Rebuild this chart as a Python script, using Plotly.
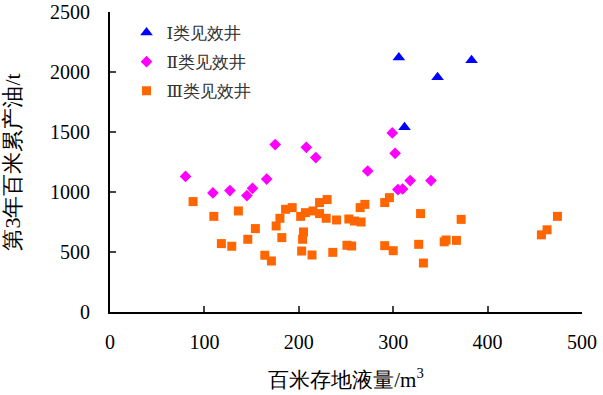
import plotly.graph_objects as go

# Class I wells
x1 = [306, 383, 347, 312]
y1 = [2120, 2097, 1956, 1539]

# Class II wells
x2 = [80, 109, 127, 145, 151, 166, 175, 208, 218, 273, 299, 302, 305, 310, 318, 340]
y2 = [1130, 992, 1012, 970, 1031, 1108, 1395, 1372, 1287, 1175, 1492, 1322, 1020, 1025, 1095, 1095]

# Class III wells
x3 = [88, 110, 136, 154, 146, 118, 129, 164, 171, 180, 176, 182, 186, 193, 202, 207,
      205, 204, 203, 214, 215, 222, 222, 230, 229, 240, 253, 259, 266, 265, 270, 291,
      296, 236, 251, 256, 291, 300, 327, 332, 329, 354, 356, 367, 372, 457, 463, 474]
y3 = [920, 797, 842, 695, 606, 570, 548, 473, 425, 781, 717, 620, 856, 870, 797, 828,
      667, 606, 508, 475, 842, 820, 912, 937, 781, 767, 775, 758, 750, 870, 897, 912,
      953, 497, 556, 550, 553, 511, 564, 408, 820, 585, 600, 597, 772, 643, 685, 797]

names = ["Ⅰ类见效井", "Ⅱ类见效井", "Ⅲ类见效井"]
x_ticks = [0, 100, 200, 300, 400, 500]
y_ticks = [0, 500, 1000, 1500, 2000, 2500]

serif = "'Liberation Serif', 'DejaVu Serif', serif"

fig = go.Figure()
fig.add_trace(go.Scatter(x=x1, y=y1, mode="markers", name=names[0], legendgroup="a",
                         marker=dict(symbol="triangle-up", size=11, color="#0000FF")))
fig.add_trace(go.Scatter(x=x2, y=y2, mode="markers", name=names[1], legendgroup="b",
                         marker=dict(symbol="diamond", size=9, color="#FF00FF")))
fig.add_trace(go.Scatter(x=x3, y=y3, mode="markers", name=names[2], legendgroup="c",
                         marker=dict(symbol="square", size=9, color="#FF6600")))

fig.update_layout(
    width=603, height=395,
    margin=dict(l=110, r=21, t=12, b=83),
    paper_bgcolor="white", plot_bgcolor="white",
    font=dict(family=serif, color="black", size=20),
    showlegend=True,
    legend=dict(x=0.035, y=0.99, xanchor="left", yanchor="top",
                font=dict(size=17, color="#333333", family=serif),
                bgcolor="rgba(0,0,0,0)", itemwidth=30, tracegroupgap=4),
    xaxis=dict(range=[0, 500], tickvals=x_ticks, ticks="inside", ticklen=6,
               tickwidth=2, showline=True, linecolor="black", linewidth=2,
               showgrid=False, zeroline=False, ticklabelstandoff=11, automargin=False,
               ticklabeloverflow="allow",
               tickfont=dict(family=serif, size=20),
               title=dict(text="百米存地液量/m<sup>3</sup>", font=dict(size=21, family=serif), standoff=20)),
    yaxis=dict(range=[0, 2500], tickvals=y_ticks, ticks="inside", ticklen=6,
               tickwidth=2, showline=True, linecolor="black", linewidth=2,
               showgrid=False, zeroline=False, ticklabelstandoff=14, automargin=False,
               ticklabeloverflow="allow",
               tickfont=dict(family=serif, size=20),
               title=dict(text="第3年百米累产油/t", font=dict(size=22, family=serif), standoff=24)),
)

fig.write_html("out.html", config={"displayModeBar": False},
               post_script="document.body.style.margin='0';")
